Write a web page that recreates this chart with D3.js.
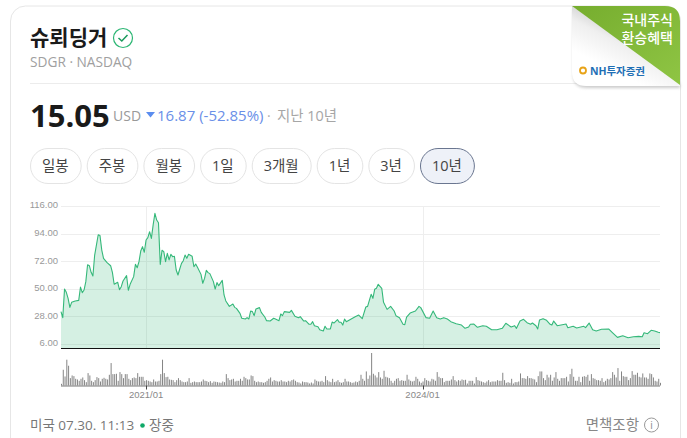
<!DOCTYPE html>
<meta charset="utf-8">
<style>
body { margin: 0; background: #fff; }
svg { display: block; font-family: "Open Sans", "Noto Sans CJK KR", sans-serif; }
.axis path, .axis line { display: none; }
.axis text { font-family: "Liberation Sans", sans-serif; font-size: 9.5px; fill: #999; }
</style>
<body></body>
<script src="https://d3js.org/d3.v7.min.js"></script>
<script>
// x = week number counted from the listing week
var weeks = [0,1,2,3,4,5,6,8,10,11,12,13,14,15,16,17,18,19,21,22,23,24,26,28,29,30,32,33,34,35,37,38,39,41,42,43,44,45,46,47,48,49,50,51,52,53,54,55,56,57,58,59,60,61,62,63,64,65,66,67,68,69,70,71,72,74,75,76,77,79,80,81,82,83,84,86,87,88,89,91,92,93,95,97,98,99,101,
  102,104,105,106,107,108,109,110,112,113,115,116,118,120,121,123,124,125,126,129,130,132,134,135,137,138,140,141,142,143,145,146,148,149,150,152,153,154,156,157,158,159,160,161,163,166,168,170,172,173,175,176,177,178,179,181,182,184,186,188,189,191,193,194,195,197,200,202,203,206,208,210,212,214,216,218,220,223,226,228,230,231,
  233,235,238,240,243,246,249,251,254,256,257,259,261,263,265,266,268,269,270,272,274,276,277,278,280,285,286,289,291,295,296,298,300,302,305,309,311,314,317,320,323,326,328,329,331,333,335,337,338];
var closes = [31.8,27.0,49.8,47.2,42.4,35.2,39.2,40.3,40.8,51.4,46.9,49.0,55.7,69.2,68.4,63.1,60.2,76.9,93.1,92.4,80.9,74.3,70.8,68.4,63.1,53.6,55.2,49.3,51.7,56.2,60.5,48.8,53.6,59.7,69.5,66.8,71.6,80.1,83.6,79.1,88.9,90.8,95.5,90.2,100.9,110.2,104.8,102.7,69.5,80.7,79.6,71.6,78.3,73.0,77.5,75.6,75.9,65.0,61.0,65.8,70.3,72.4,76.9,74.3,77.5,75.9,67.6,69.8,67.1,61.5,54.4,58.3,64.7,62.9,62.1,55.7,49.8,54.9,52.5,56.7,45.1,40.3,36.0,37.9,35.2,34.4,30.4,
  26.5,25.9,27.0,25.9,32.3,31.8,28.6,33.9,35.0,31.2,27.5,24.6,24.3,26.5,25.9,24.6,29.9,28.6,31.8,31.2,32.8,28.1,27.0,27.8,24.3,24.6,21.7,21.7,23.8,20.6,19.8,17.4,16.4,20.1,18.0,18.0,23.5,22.7,25.4,23.3,23.3,21.1,25.9,23.8,25.4,27.8,29.1,26.2,35.5,36.0,45.6,42.4,49.6,50.4,53.6,50.4,39.2,33.6,36.0,32.3,28.6,27.0,21.7,21.4,27.5,30.7,32.3,36.0,35.0,27.0,26.5,32.3,27.0,25.9,27.0,25.9,23.8,22.2,21.1,18.5,19.6,21.7,
  21.9,19.3,20.6,20.1,17.4,17.4,18.5,22.5,19.6,20.6,18.5,24.3,25.7,23.0,21.7,22.7,20.6,18.0,25.1,26.2,24.9,21.7,21.1,24.3,20.6,21.9,19.0,20.1,18.8,20.1,19.0,22.7,17.4,16.4,17.7,18.0,15.3,11.3,12.6,11.0,11.8,12.1,11.8,15.0,14.2,16.9,16.4,15.3,15.05];
// one weekly volume per week, relative units
var volumes = [5,47,27,77,59,22,30,28,20,18,14,20,24,16,10,37,30,14,10,16,25,22,12,20,23,20,18,32,67,34,34,35,14,40,34,22,34,34,20,16,22,24,22,37,26,26,26,14,16,14,12,10,18,12,12,14,34,77,37,25,26,18,17,16,10,16,22,16,12,10,10,12,22,8,10,12,10,10,10,12,18,14,13,10,13,8,12,11,10,9,8,12,10,34,22,16,18,20,12,14,14,20,14,26,22,18,18,30,28,14,10,12,10,
  10,8,10,14,20,24,12,16,14,12,12,16,12,12,10,14,12,16,18,14,10,9,6,12,10,10,9,6,9,6,18,14,12,12,14,10,28,16,12,10,20,10,12,16,10,8,10,20,12,12,10,8,9,12,10,14,32,20,14,42,20,30,97,35,30,24,40,24,20,44,26,24,22,14,8,14,20,22,14,16,14,14,32,18,14,12,14,26,20,12,8,12,22,16,14,12,20,18,14,40,26,22,22,10,14,14,14,18,28,16,12,16,14,18,
  16,17,6,14,14,14,6,25,16,14,12,10,8,12,16,10,12,12,12,16,14,14,38,16,8,10,8,20,6,10,10,12,36,22,22,20,28,22,22,20,18,10,28,42,42,22,16,32,24,32,14,24,40,20,14,22,22,22,26,12,34,50,26,14,14,26,10,26,28,26,32,14,34,22,20,16,16,14,22,10,14,20,18,22,40,32,24,52,14,42,28,26,26,16,22,43,32,32,38,26,24,36,24,24,20,36,34,24,14,12,20,8];
var priceTicks = [6, 28, 50, 72, 94, 116];
var dateTickWeeks = [48, 204];
var dateTickLabels = ["2021/01", "2024/01"];
var periods = ["일봉", "주봉", "월봉", "1일", "3개월", "1년", "3년", "10년"];
var activePeriod = "10년";

var w = 687, h = 438;
var left = 61, right = 660, priceBottom = 344, priceTop = 206, axisY = 348.5, volBase = 385.5, volTop = 353;

var svg = d3.select("body").append("svg").attr("width", w).attr("height", h);
var defs = svg.append("defs");

// card outline
svg.append("path")
  .attr("d", "M10.5,438 V21 A15,15 0 0 1 25.5,6 H665 A15,15 0 0 1 680.5,21 V438")
  .attr("fill", "#fff").attr("stroke", "#e6e6e6").attr("stroke-width", 1);

// header
svg.append("text").attr("x", 30).attr("y", 45).attr("font-size", 21).attr("font-weight", 700)
  .attr("fill", "#1a1a1a").attr("font-family", "'Noto Sans CJK KR'").text("슈뢰딩거");
var badge = svg.append("g").attr("transform", "translate(123,38)");
badge.append("circle").attr("r", 9.5).attr("fill", "#fff").attr("stroke", "#2bb673").attr("stroke-width", 1.2);
badge.append("path").attr("d", "M-4.5,0 L-1.2,3 L4.5,-3").attr("fill", "none").attr("stroke", "#1a9a5c").attr("stroke-width", 1.5);
svg.append("text").attr("x", 30).attr("y", 67).attr("font-size", 13.7).attr("fill", "#a0a0a0").text("SDGR · NASDAQ");
svg.append("line").attr("x1", 30).attr("x2", 680).attr("y1", 83.5).attr("y2", 83.5).attr("stroke", "#ececec");

svg.append("text").attr("x", 30).attr("y", 127).attr("font-size", 31).attr("font-weight", 700).attr("fill", "#1a1a1a").text("15.05");
svg.append("text").attr("x", 113).attr("y", 121).attr("font-size", 14).attr("fill", "#999").text("USD");
svg.append("path").attr("d", "M146,112 H155 L150.5,117.5 Z").attr("fill", "#5b8def");
svg.append("text").attr("x", 157).attr("y", 121).attr("font-size", 15).attr("fill", "#6a8fe8").text("16.87 (-52.85%)");
svg.append("text").attr("x", 267).attr("y", 121).attr("font-size", 14).attr("fill", "#b0b0b0").text("·");
svg.append("text").attr("x", 277).attr("y", 121).attr("font-size", 14.4).attr("fill", "#a6a6a6").text("지난 10년");

// period buttons
var bx = 30;
periods.forEach(function (p) {
  var on = p === activePeriod;
  var g = svg.append("g");
  var r = g.append("rect").attr("y", 148.5).attr("height", 35).attr("rx", 17.5)
    .attr("fill", on ? "#eef1f8" : "#fff").attr("stroke", on ? "#6a7690" : "#e4e4e4");
  var t = g.append("text").attr("y", 171).attr("font-size", 14.5).attr("text-anchor", "middle")
    .attr("fill", "#444").text(p);
  var bw = t.node().getComputedTextLength() + 24;
  r.attr("x", bx + .5).attr("width", bw);
  t.attr("x", bx + bw / 2);
  bx += bw + 6;
});

// scales
var x = d3.scaleLinear().domain([0, 338]).range([left, right]);
var y = d3.scaleLinear().domain([6, 116]).range([priceBottom, priceTop]);
var yVol = d3.scaleLinear().domain([0, d3.max(volumes)]).range([volBase, volTop]);

// grid
svg.append("g").selectAll("line").data(priceTicks).join("line")
  .attr("x1", left).attr("x2", right)
  .attr("y1", function (d) { return Math.round(y(d)) + .5; })
  .attr("y2", function (d) { return Math.round(y(d)) + .5; })
  .attr("stroke", "#eeeeee");
svg.append("g").selectAll("line").data(dateTickWeeks).join("line")
  .attr("x1", function (d) { return Math.round(x(d)) + .5; })
  .attr("x2", function (d) { return Math.round(x(d)) + .5; })
  .attr("y1", priceTop).attr("y2", axisY)
  .attr("stroke", "#eeeeee");

svg.append("g").attr("class", "axis").attr("transform", "translate(" + (left + 3) + ",0)")
  .call(d3.axisLeft(y).tickValues(priceTicks).tickSize(0).tickPadding(6).tickFormat(d3.format(".2f")))
  .selectAll("text").attr("dy", ".2em");

// price area and line
var points = d3.zip(weeks, closes);
svg.append("path").datum(points)
  .attr("d", d3.area().x(function (d) { return x(d[0]); }).y0(axisY).y1(function (d) { return y(d[1]); }))
  .attr("fill", "#2fb574").attr("fill-opacity", .2);
svg.append("path").datum(points)
  .attr("d", d3.line().x(function (d) { return x(d[0]); }).y(function (d) { return y(d[1]); }))
  .attr("fill", "none").attr("stroke", "#35b87a").attr("stroke-width", 1.1).attr("stroke-linejoin", "round");
svg.append("line").attr("x1", left).attr("x2", right).attr("y1", axisY).attr("y2", axisY).attr("stroke", "#111");

// volume bars are thin and unsnapped: on a pixel they look dark, across two they look light
svg.append("g").selectAll("rect").data(volumes).join("rect")
  .attr("x", function (d, i) { return x(i); })
  .attr("width", 1)
  .attr("y", function (d) { return yVol(d); })
  .attr("height", function (d) { return volBase - yVol(d); })
  .attr("fill", "#858585");
svg.append("line").attr("x1", left).attr("x2", right).attr("y1", volBase + .5).attr("y2", volBase + .5)
  .attr("stroke", "#777").attr("stroke-width", 1.2);

svg.append("g").selectAll("line").data(dateTickWeeks).join("line")
  .attr("x1", function (d) { return Math.round(x(d)) + .5; })
  .attr("x2", function (d) { return Math.round(x(d)) + .5; })
  .attr("y1", volBase).attr("y2", volBase + 4).attr("stroke", "#444");
svg.append("g").selectAll("text").data(dateTickWeeks).join("text")
  .attr("x", function (d) { return x(d); }).attr("y", 398)
  .attr("text-anchor", "middle").attr("font-size", 9.5).attr("fill", "#888")
  .attr("font-family", "'Liberation Sans'")
  .text(function (d, i) { return dateTickLabels[i]; });

// footer
svg.append("text").attr("x", 30).attr("y", 430).attr("font-size", 13.5).attr("fill", "#777").text("미국 07.30. 11:13");
svg.append("circle").attr("cx", 142.5).attr("cy", 425.5).attr("r", 2.3).attr("fill", "#0fa968");
svg.append("text").attr("x", 149).attr("y", 430).attr("font-size", 13.5).attr("fill", "#777").text("장중");
svg.append("text").attr("x", 639).attr("y", 430).attr("text-anchor", "end").attr("font-size", 14.5).attr("fill", "#888").text("면책조항");
svg.append("circle").attr("cx", 651.5).attr("cy", 425).attr("r", 7).attr("fill", "none").attr("stroke", "#999");
svg.append("text").attr("x", 651.5).attr("y", 429).attr("text-anchor", "middle").attr("font-size", 10).attr("fill", "#888").text("i");

// corner ribbon
var fold = defs.append("linearGradient").attr("id", "fold").attr("x1", .62).attr("y1", .28).attr("x2", .3).attr("y2", .75);
fold.append("stop").attr("offset", 0).attr("stop-color", "#c8c8c8");
fold.append("stop").attr("offset", .45).attr("stop-color", "#efefef");
fold.append("stop").attr("offset", 1).attr("stop-color", "#ffffff");
var leaf = defs.append("linearGradient").attr("id", "leaf").attr("x1", 0).attr("y1", 0).attr("x2", 1).attr("y2", 1);
leaf.append("stop").attr("offset", 0).attr("stop-color", "#76ad2e");
leaf.append("stop").attr("offset", 1).attr("stop-color", "#8fc544");
var blur = defs.append("filter").attr("id", "soft").attr("x", "-10%").attr("y", "-10%").attr("width", "120%").attr("height", "125%");
blur.append("feGaussianBlur").attr("stdDeviation", 1.5);
svg.append("path").attr("d", "M573,8 V74 Q573,88 587,88 H680 V84 Z").attr("fill", "#999").attr("opacity", .5).attr("filter", "url(#soft)");
svg.append("path").attr("d", "M572,6 V72 Q572,86 586,86 H680 V84 Z").attr("fill", "url(#fold)");
svg.append("path").attr("d", "M572,6 H665 Q680,6 680,21 V85 Z").attr("fill", "url(#leaf)");
svg.append("text").attr("x", 673).attr("y", 25).attr("text-anchor", "end").attr("font-size", 14).attr("font-weight", 500).attr("fill", "#fff").text("국내주식");
svg.append("text").attr("x", 673).attr("y", 43).attr("text-anchor", "end").attr("font-size", 14).attr("font-weight", 500).attr("fill", "#fff").text("환승혜택");
svg.append("circle").attr("cx", 583).attr("cy", 70.5).attr("r", 3).attr("fill", "none").attr("stroke", "#e8a317").attr("stroke-width", 1.8);
svg.append("text").attr("x", 590).attr("y", 75).attr("font-size", 10.5).attr("font-weight", 700).attr("fill", "#1f6fb5").attr("textLength", 55).text("NH투자증권");
</script>
